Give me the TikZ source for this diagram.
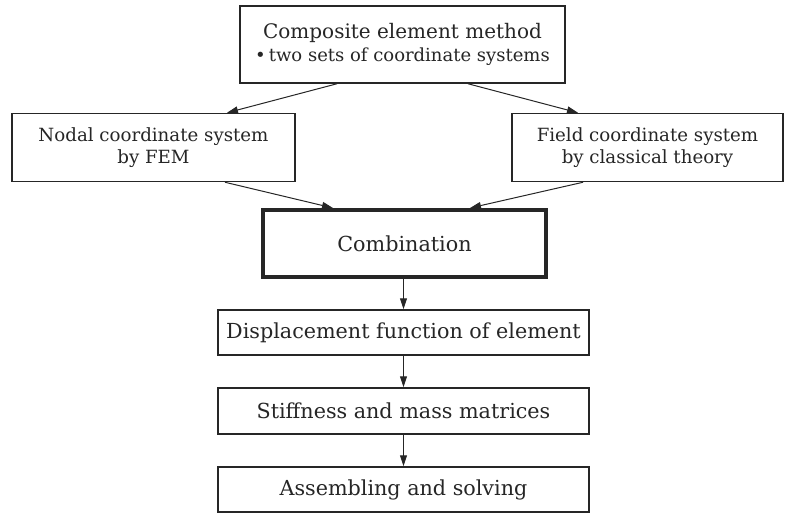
\documentclass[tikz,border=0pt]{standalone}
\usepackage{fontspec}
\setmainfont{DejaVu Serif}
\usetikzlibrary{arrows.meta}
\begin{document}
\begin{tikzpicture}[x=1pt,y=-1pt,
  box/.style={draw=black!85, line width=1.5pt, fill=white, inner sep=0pt, align=center,
    font=\fontsize{18.2}{22}\selectfont, text=black!85},
  big/.style={font=\fontsize{20.7}{24}\selectfont},
  arr/.style={-{Triangle[length=11pt,width=7pt]}, line width=1pt, draw=black!85}]
\useasboundingbox (0,0) rectangle (785,515);
\node[box, minimum width=325pt, minimum height=77pt] (top) at (402.5,44.5)
  {{\fontsize{20}{26}\selectfont Composite element method}\\[1pt]{\fontsize{18}{20}\selectfont •\,two sets of coordinate systems}};
\node[box, minimum width=283pt, minimum height=68pt] (nodal) at (153.5,147.5)
  {Nodal coordinate system\\by FEM};
\node[box, minimum width=271pt, minimum height=68pt] (field) at (647.5,147.5)
  {Field coordinate system\\by classical theory};
\node[box, big, line width=4pt, minimum width=283pt, minimum height=67pt] (comb) at (404.5,243.5)
  {Combination};
\node[box, big, minimum width=371pt, minimum height=45pt] (disp) at (403.5,332.5)
  {Displacement function of element};
\node[box, big, minimum width=371pt, minimum height=46pt] (stiff) at (403.5,411)
  {Stiffness and mass matrices};
\node[box, big, minimum width=371pt, minimum height=45pt] (assem) at (403.5,489.5)
  {Assembling and solving};
\draw[arr] ([xshift=-65.5pt]top.south) -- ([xshift=73.5pt]nodal.north);
\draw[arr] ([xshift=65.5pt]top.south) -- ([xshift=-69.5pt]field.north);
\draw[arr] ([xshift=71.5pt]nodal.south) -- ([xshift=-71.5pt]comb.north);
\draw[arr] ([xshift=-64.5pt]field.south) -- ([xshift=65.5pt]comb.north);
\draw[arr] (comb.south -| disp.north) -- (disp.north);
\draw[arr] (disp) -- (stiff);
\draw[arr] (stiff) -- (assem);
\end{tikzpicture}
\end{document}
